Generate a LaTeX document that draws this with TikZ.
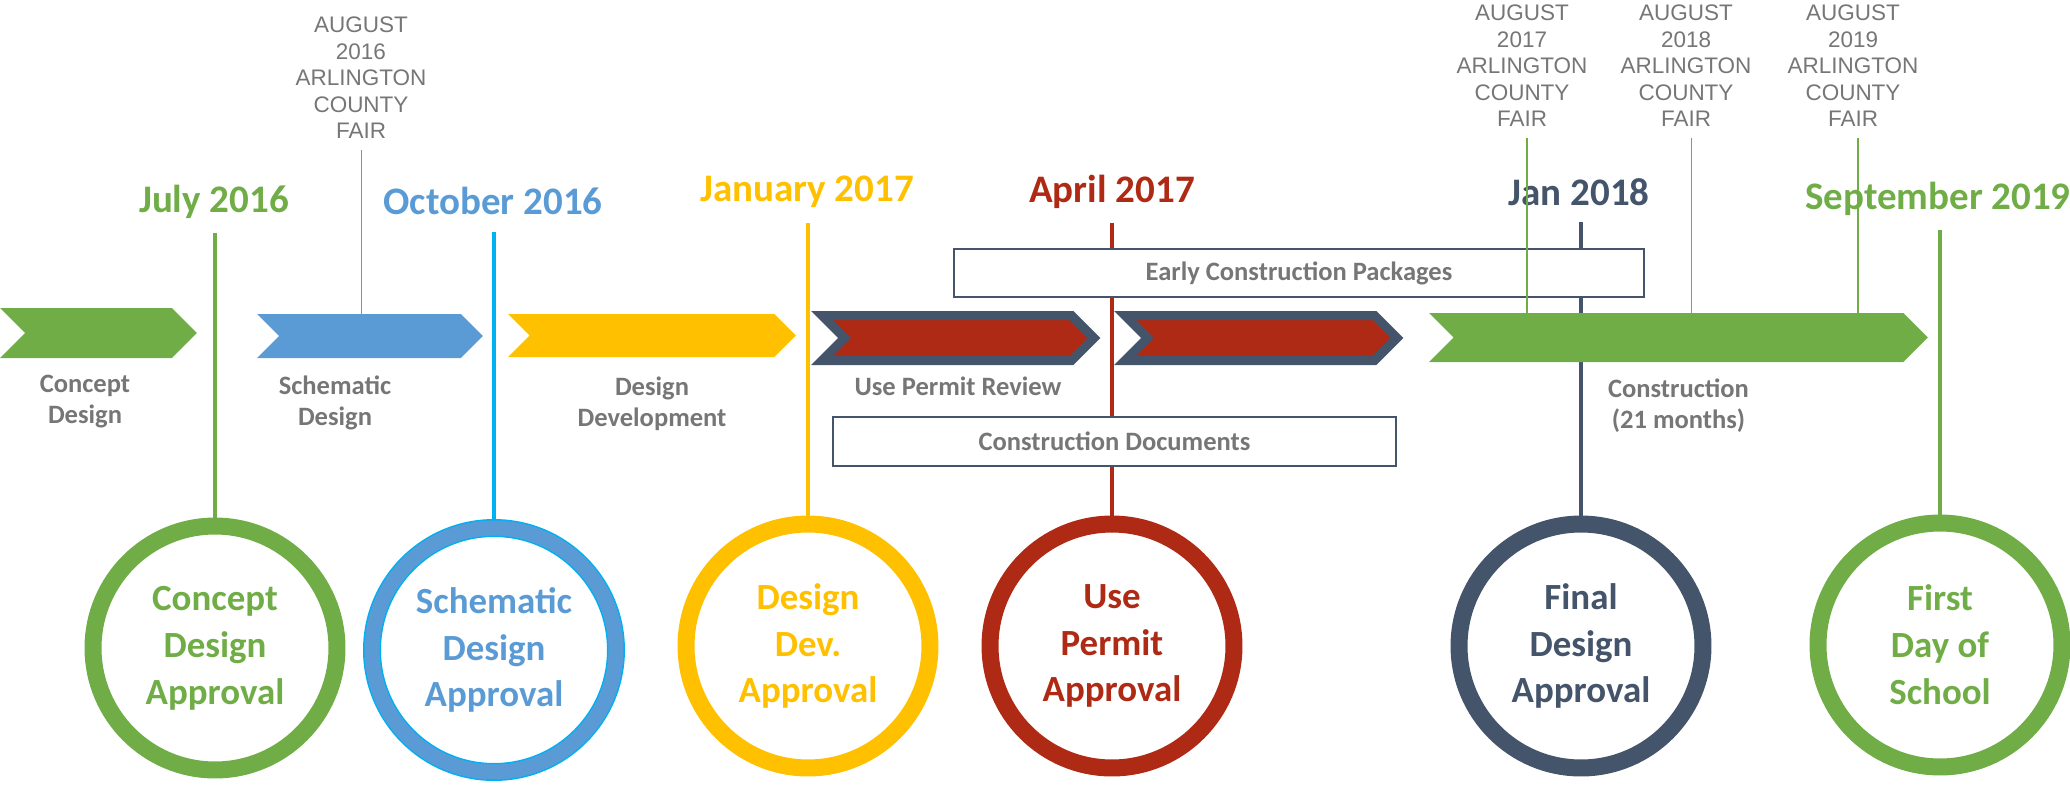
\documentclass[tikz,border=0pt]{standalone}
\usepackage{fontspec}
\setmainfont{Carlito}
\newfontfamily\fairfont{Liberation Sans}
\usepackage{tikz}
\usetikzlibrary{shapes.symbols, positioning}
\definecolor{leaf}{RGB}{112,173,71}
\definecolor{sky}{RGB}{91,155,213}
\definecolor{cyanline}{RGB}{0,176,240}
\definecolor{gold}{RGB}{255,192,0}
\definecolor{brick}{RGB}{174,42,20}
\definecolor{slate}{RGB}{68,84,106}
\definecolor{ink}{RGB}{118,118,118}

\begin{document}
\begin{tikzpicture}[
    x=0.02cm, y=-0.02cm,
    phase/.style={signal, signal to=east, signal from=west, signal pointer angle=90, inner sep=0pt},
    review/.style={phase, fill=brick, draw=slate, line width=0.18cm, minimum width=5.44cm, minimum height=0.9cm},
    phaselabel/.style={align=center, text=ink, inner sep=0pt, font=\fontsize{15.1}{17.6}\selectfont\bfseries},
    date/.style={inner sep=0pt, font=\fontsize{22.2}{26}\selectfont\bfseries},
    ring/.style={circle, line width=0.34cm, outer sep=0.17cm, minimum size=4.88cm, inner sep=0pt, align=center, font=\fontsize{21}{26.7}\selectfont\bfseries},
    mline/.style={line width=0.07cm},
    task/.style={rectangle, draw=slate, line width=0.03cm, fill=white, align=center, text=ink, font=\fontsize{15.1}{17.6}\selectfont\bfseries},
    fair/.style={align=center, text=ink, inner sep=0pt, outer sep=0.22cm, font=\fairfont\fontsize{12.8}{15.1}\selectfont}
]
\useasboundingbox (0,0) rectangle (2070,785);

% Milestones
\node[ring, draw=leaf, text=leaf] (m1) at (215,648) {Concept\\Design\\Approval};
\node[ring, draw=cyanline, line width=0.03cm, double=sky, double distance=0.3cm, outer sep=0.18cm, text=sky] (m2) at (494,650) {Schematic\\Design\\Approval};
\node[ring, draw=gold, text=gold] (m3) at (808,646) {Design\\Dev.\\Approval};
\node[ring, draw=brick, text=brick] (m4) at (1112,646) {Use\\Permit\\Approval};
\node[ring, draw=slate, text=slate] (m5) at (1581,646) {Final\\Design\\Approval};
\node[ring, draw=leaf, text=leaf] (m6) at (1940,645) {First\\Day of\\School};

% Dates
\node[date, text=leaf] (d1) at (214,202) {July 2016};
\node[date, text=sky] (d2) at (493,201) {October 2016};
\node[date, text=gold] (d3) at (807,192) {January 2017};
\node[date, text=brick] (d4) at (1112,192) {April 2017};
\node[date, text=slate] (d5) at (1579,192) {Jan 2018};
\node[date, text=leaf] (d6) at (1938,199) {September 2019};

\coordinate (t1) at (215,233);
\coordinate (t2) at (494,232);
\coordinate (t3) at (808,223);
\coordinate (t4) at (1112,223);
\coordinate (t5) at (1581,222);
\coordinate (t6) at (1940,230);

\draw[mline, leaf] (t1) -- (m1);
\draw[mline, cyanline, line width=0.08cm] (t2) -- (m2);
\draw[mline, gold] (t3) -- (m3);
\draw[mline, brick] (t4) -- (m4);
\draw[mline, slate] (t5) -- (m5);
\draw[mline, leaf] (t6) -- (m6);

% Phases
\node[phase, fill=leaf, minimum width=3.94cm, minimum height=1cm] (cd) at (98.5,333) {};
\node[phase, fill=sky, minimum width=4.52cm, minimum height=0.88cm] (sd) at (370,336) {};
\node[phase, fill=gold, minimum width=5.76cm, minimum height=0.86cm] (dd) at (652,335.5) {};
\node[review] (upr1) at (958,338) {};
\node[review] (upr2) at (1261,338) {};
\node[phase, fill=leaf, minimum width=9.98cm, minimum height=0.98cm] (con) at (1678.5,337.5) {};

\node[task, minimum width=13.8cm, minimum height=0.96cm] (ecp) at (1299,273) {Early Construction Packages};
\node[task, minimum width=11.26cm, minimum height=0.98cm] (cdoc) at (1114.5,441.5) {Construction Documents};

% Labels
\node[phaselabel, below=0.32cm of cd, xshift=-0.27cm] (cdl) {Concept\\Design};
\node[phaselabel, below=0.34cm of sd, xshift=-0.7cm] (sdl) {Schematic\\Design};
\node[phaselabel, below=0.38cm of dd] (ddl) {Design\\Development};
\node[phaselabel, below=0.24cm of upr1] (uprl) {Use Permit Review};
\node[phaselabel, below=0.32cm of con] (conl) {Construction\\(21 months)};

% County fair
\node[fair] (f16) at (361,78) {AUGUST\\2016\\ARLINGTON\\COUNTY\\FAIR};
\node[fair] (f17) at (1522,66) {AUGUST\\2017\\ARLINGTON\\COUNTY\\FAIR};
\node[fair] (f18) at (1686,66) {AUGUST\\2018\\ARLINGTON\\COUNTY\\FAIR};
\node[fair] (f19) at (1853,66) {AUGUST\\2019\\ARLINGTON\\COUNTY\\FAIR};

\draw[sky, line width=0.02cm] (f16.south) -- (f16.south |- sd.north);
\draw[leaf, line width=0.04cm] ([xshift=0.1cm]f17.south) -- ([xshift=0.1cm]f17.south |- con.north);
\draw[leaf, line width=0.02cm] ([xshift=0.1cm]f18.south) -- ([xshift=0.1cm]f18.south |- con.north);
\draw[leaf, line width=0.04cm] ([xshift=0.1cm]f19.south) -- ([xshift=0.1cm]f19.south |- con.north);

\end{tikzpicture}
\end{document}
